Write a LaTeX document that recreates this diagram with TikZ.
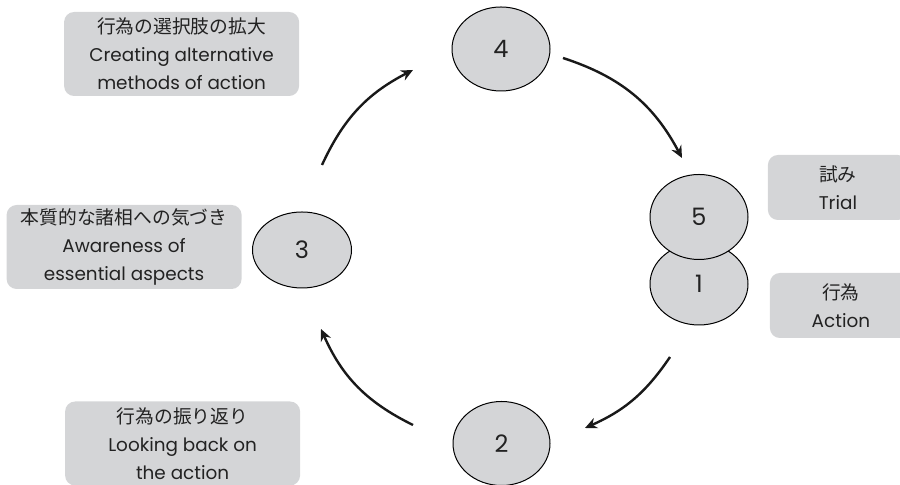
\documentclass[tikz,border=0pt]{standalone}
\usepackage{fontspec}
\setmainfont{Poppins}
\newfontfamily\jp{Noto Sans CJK JP}[Scale=1.02]
\usepackage{xcolor}
\usetikzlibrary{positioning,shapes.geometric,arrows.meta}
\definecolor{boxgray}{RGB}{212,213,215}
\definecolor{inkgray}{RGB}{34,34,34}

\begin{document}
\begin{tikzpicture}[x=0.5pt, y=0.5pt,
  stage/.style={draw=black, line width=0.5pt, ellipse, fill=boxgray, minimum width=49pt, minimum height=42pt, inner sep=0pt, text=inkgray, font=\fontsize{12}{14}\selectfont},
  note/.style={fill=boxgray, rounded corners=5pt, align=center, minimum width=117.5pt, minimum height=42pt, inner sep=0pt, text=inkgray, font=\fontsize{9.2}{14}\selectfont},
  flow/.style={-{Stealth[length=6pt,width=5.5pt,inset=2pt]}, line width=1.2pt, black!90}]
\useasboundingbox (0,0) rectangle (900,485);
\node[stage] (s4) at (501,436) {4};
\node[stage, minimum height=38pt, minimum width=49.5pt] (s3) at (302,235) {3};
\node[stage, minimum width=48.5pt] (s2) at (501.5,41.5) {2};
\node[stage, minimum height=41pt] (s1) at (699,201) {1};
\node[stage, minimum height=42.5pt] (s5) at (699,268) {5};
\node[note] (n4) [left=76pt of s4, yshift=-2.5pt] {{\jp 行為の選択肢の拡大}\\Creating alternative\\methods of action};
\node[note] (n3) [left=5pt of s3, yshift=1.5pt] {{\jp 本質的な諸相への気づき}\\Awareness of\\essential aspects};
\node[note] (n2) [left=76pt of s2] {{\jp 行為の振り返り}\\Looking back on\\the action};
\node[note, minimum width=70pt, minimum height=32.5pt] (n5) [right=9.5pt of s5, yshift=14.75pt] {{\jp 試み}\\Trial};
\node[note, minimum width=71pt, minimum height=32.5pt] (n1) [right=10.5pt of s1, yshift=-10.75pt] {{\jp 行為}\\Action};
% arrow ends around the cycle
\coordinate (a45s) at (563,427);
\coordinate (a45e) at (682,327);
\coordinate (a34s) at (322,320);
\coordinate (a34e) at (413,415);
\coordinate (a12s) at (670,128);
\coordinate (a12e) at (585,57);
\coordinate (a23s) at (413,60);
\coordinate (a23e) at (321,156);
\draw[flow] (a34s) to[bend left=19] (a34e);
\draw[flow] (a45s) to[bend left=22] (a45e);
\draw[flow] (a12s) to[bend left=16] (a12e);
\draw[flow] (a23s) to[bend left=20] (a23e);
\end{tikzpicture}
\end{document}
